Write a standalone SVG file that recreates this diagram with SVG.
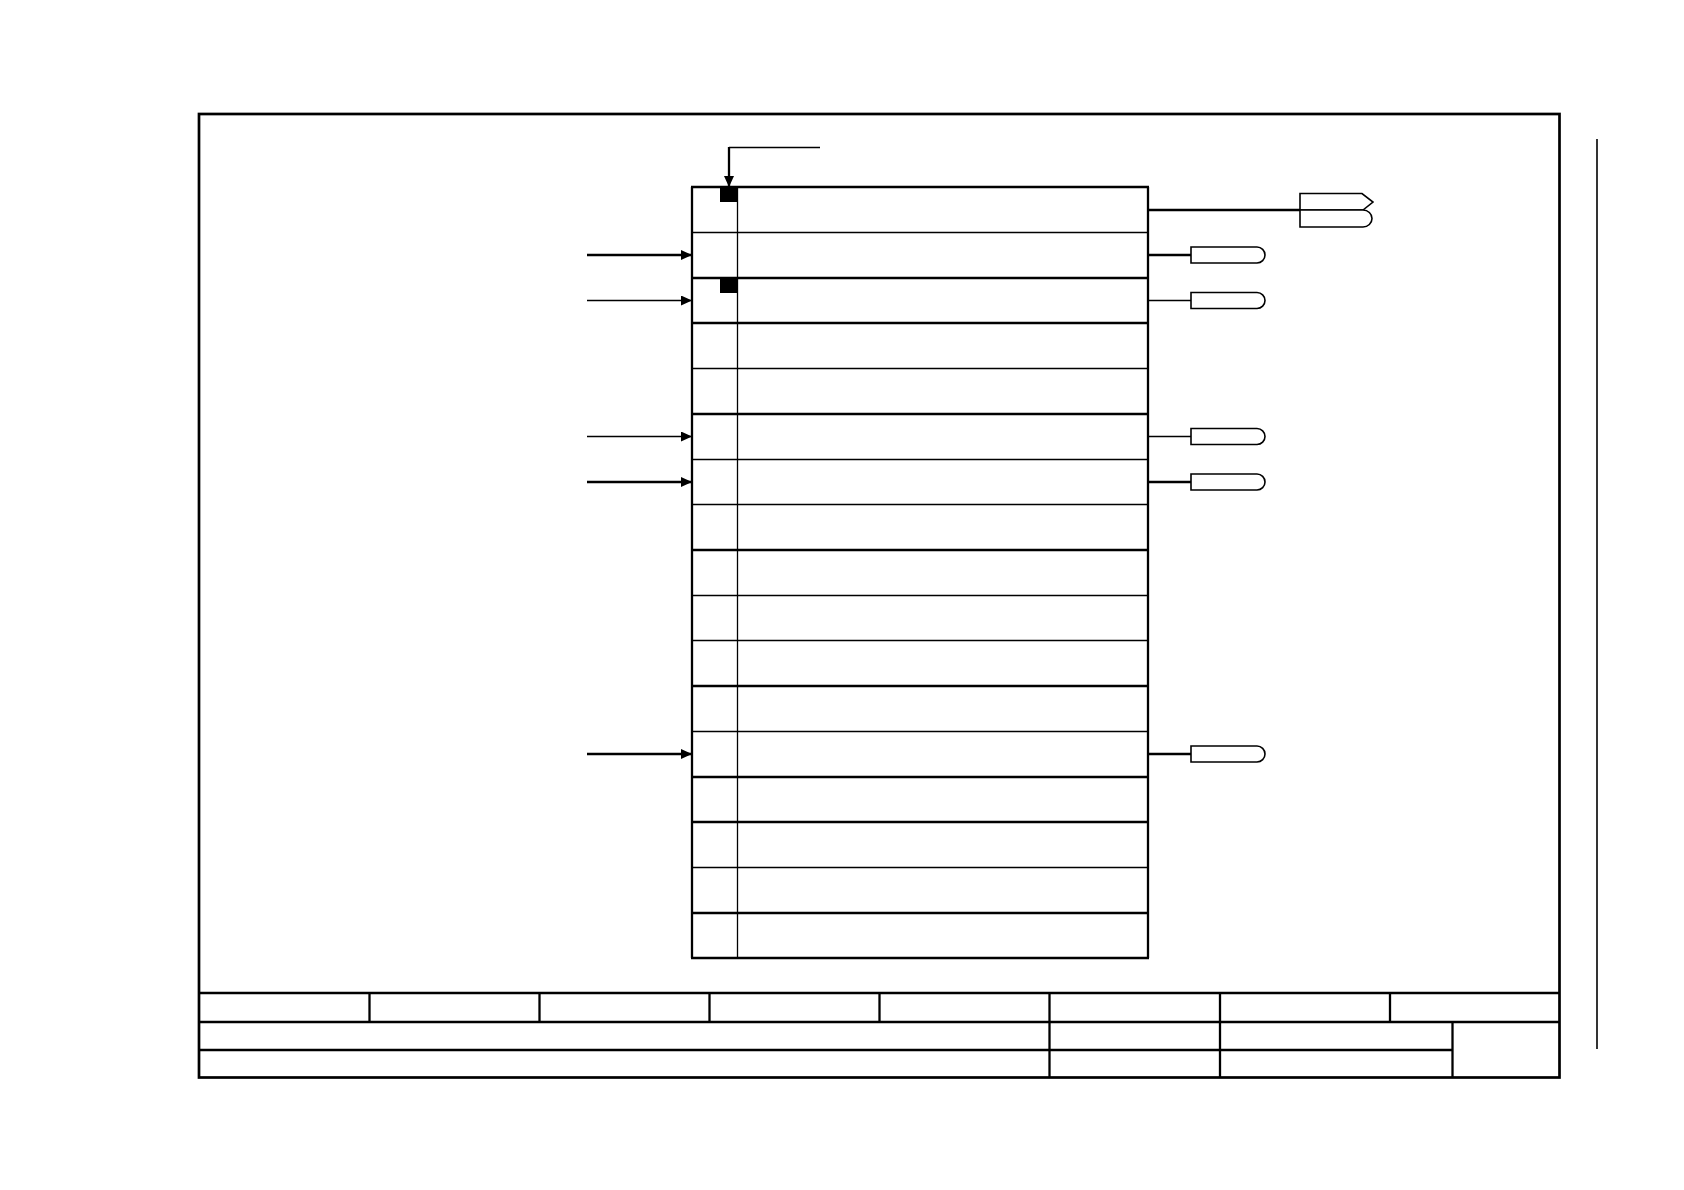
<svg xmlns="http://www.w3.org/2000/svg" width="1684" height="1190" viewBox="0 0 1684 1190">
<defs>
<style>
.k{stroke:#000;fill:none}
.t2{stroke-width:2.3}
.t1{stroke-width:1.3}
.t25{stroke-width:2.7}
.port{fill:#fff;stroke:#000;stroke-width:1.6}
</style>
<marker id="ah" viewBox="0 0 11 10" refX="11" refY="5" markerWidth="11" markerHeight="10" markerUnits="userSpaceOnUse" orient="auto">
<path d="M0,0 L11,5 L0,10 Z" fill="#000"/>
</marker>
</defs>
<rect width="1684" height="1190" fill="#fff"/>
<g id="frame">
<rect x="199" y="114" width="1360.5" height="963.5" class="k t25"/>
<line x1="1597" y1="139" x2="1597" y2="1049" class="k" stroke-width="1.6"/>
</g>
<g id="title-block" class="k t2">
<line x1="199" y1="993" x2="1559.5" y2="993"/>
<line x1="199" y1="1022" x2="1559.5" y2="1022"/>
<line x1="199" y1="1050" x2="1452.5" y2="1050"/>
<line x1="369.5" y1="993" x2="369.5" y2="1022"/>
<line x1="539.5" y1="993" x2="539.5" y2="1022"/>
<line x1="709.5" y1="993" x2="709.5" y2="1022"/>
<line x1="879.5" y1="993" x2="879.5" y2="1022"/>
<line x1="1390" y1="993" x2="1390" y2="1022"/>
<line x1="1049.5" y1="993" x2="1049.5" y2="1077.5"/>
<line x1="1220" y1="993" x2="1220" y2="1077.5"/>
<line x1="1452.5" y1="1022" x2="1452.5" y2="1077.5"/>
</g>
<g id="block">
<g class="k t2">
<line x1="692" y1="187" x2="692" y2="958"/>
<line x1="1148" y1="187" x2="1148" y2="958"/>
<line x1="691" y1="187" x2="1149" y2="187"/>
<line x1="692" y1="278" x2="1148" y2="278"/>
<line x1="692" y1="323" x2="1148" y2="323"/>
<line x1="692" y1="414" x2="1148" y2="414"/>
<line x1="692" y1="550" x2="1148" y2="550"/>
<line x1="692" y1="686" x2="1148" y2="686"/>
<line x1="692" y1="777" x2="1148" y2="777"/>
<line x1="692" y1="822" x2="1148" y2="822"/>
<line x1="692" y1="913" x2="1148" y2="913"/>
<line x1="691" y1="958" x2="1149" y2="958"/>
</g>
<g class="k t1">
<line x1="737.5" y1="187" x2="737.5" y2="958"/>
<line x1="692" y1="232.5" x2="1148" y2="232.5"/>
<line x1="692" y1="368.5" x2="1148" y2="368.5"/>
<line x1="692" y1="459.5" x2="1148" y2="459.5"/>
<line x1="692" y1="504.5" x2="1148" y2="504.5"/>
<line x1="692" y1="595.5" x2="1148" y2="595.5"/>
<line x1="692" y1="640.5" x2="1148" y2="640.5"/>
<line x1="692" y1="731.5" x2="1148" y2="731.5"/>
<line x1="692" y1="867.5" x2="1148" y2="867.5"/>
</g>
<rect x="720" y="187" width="17" height="15" fill="#000"/>
<rect x="720" y="278" width="17" height="15" fill="#000"/>
</g>
<g id="out-1">
<path d="M1300,193.5 H1362 L1373,202 L1363,210 H1300 Z" class="port"/>
<path d="M1300,210 H1363 A9 8.5 0 0 1 1363,227 H1300 Z" class="port"/>
</g>
<g id="out-2"><path d="M1191,247 H1257 A8 8 0 0 1 1257,263 H1191 Z" class="port"/></g>
<g id="out-3"><path d="M1191,292.5 H1257 A8 8 0 0 1 1257,308.5 H1191 Z" class="port"/></g>
<g id="out-6"><path d="M1191,428.5 H1257 A8 8 0 0 1 1257,444.5 H1191 Z" class="port"/></g>
<g id="out-7"><path d="M1191,474 H1257 A8 8 0 0 1 1257,490 H1191 Z" class="port"/></g>
<g id="out-13"><path d="M1191,746 H1257 A8 8 0 0 1 1257,762 H1191 Z" class="port"/></g>
<g id="connectors">
<polyline points="820,147.5 729,147.5" class="k t1"/>
<line x1="729" y1="147" x2="729" y2="187" class="k t2" marker-end="url(#ah)"/>
<line x1="587" y1="255" x2="692" y2="255" class="k t2" marker-end="url(#ah)"/>
<line x1="587" y1="300.5" x2="692" y2="300.5" class="k t1" marker-end="url(#ah)"/>
<line x1="587" y1="436.5" x2="692" y2="436.5" class="k t1" marker-end="url(#ah)"/>
<line x1="587" y1="482" x2="692" y2="482" class="k t2" marker-end="url(#ah)"/>
<line x1="587" y1="754" x2="692" y2="754" class="k t2" marker-end="url(#ah)"/>
<line x1="1148" y1="210" x2="1300" y2="210" class="k t2"/>
<line x1="1148" y1="255" x2="1191" y2="255" class="k t2"/>
<line x1="1148" y1="300.5" x2="1191" y2="300.5" class="k t1"/>
<line x1="1148" y1="436.5" x2="1191" y2="436.5" class="k t1"/>
<line x1="1148" y1="482" x2="1191" y2="482" class="k t2"/>
<line x1="1148" y1="754" x2="1191" y2="754" class="k t2"/>
</g>
</svg>
